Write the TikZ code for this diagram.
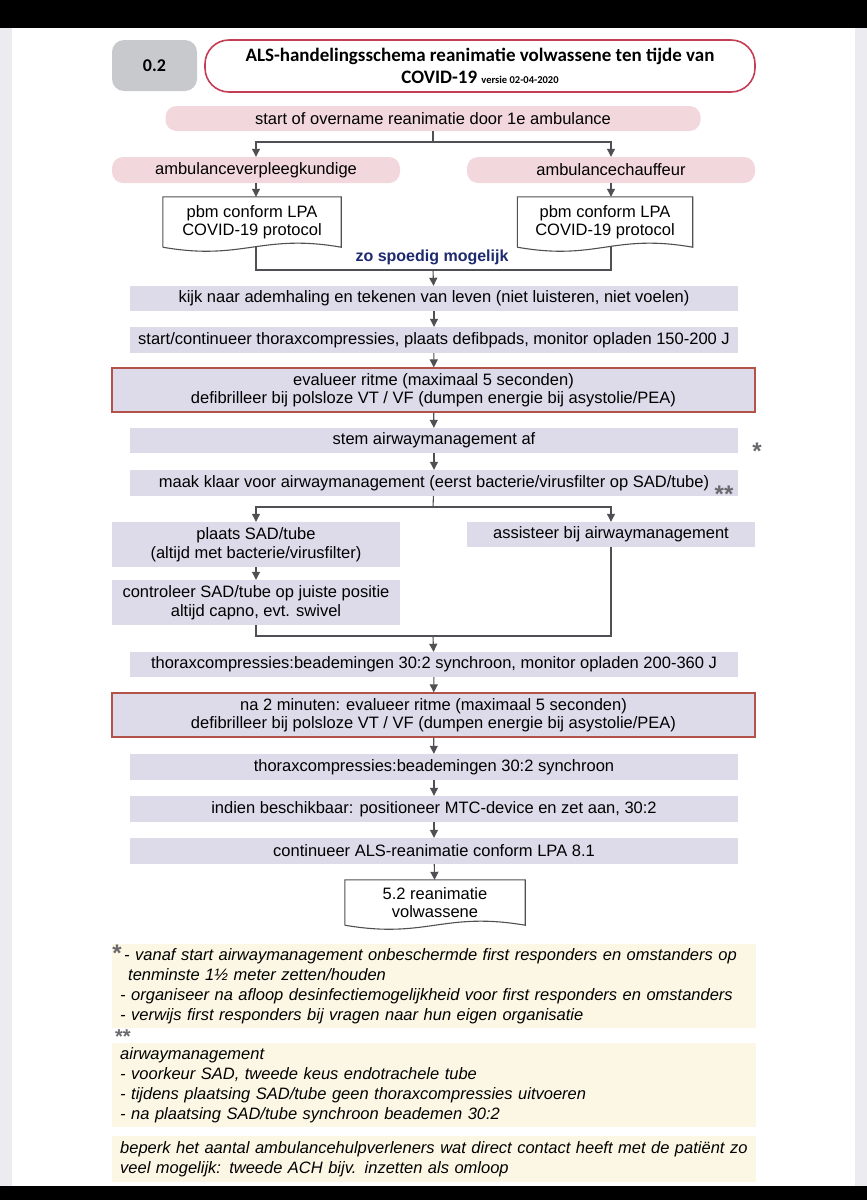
\documentclass[tikz,border=0pt]{standalone}
\usepackage{fontspec}
\setmainfont{Liberation Sans}
\newfontfamily\titlefont{Carlito}
\usetikzlibrary{arrows.meta}

\definecolor{linegrey}{RGB}{80,80,84}
\definecolor{pinkfill}{RGB}{242,216,220}
\definecolor{stepfill}{RGB}{221,219,233}
\definecolor{evalred}{RGB}{178,82,72}
\definecolor{titlered}{RGB}{196,62,86}
\definecolor{numgrey}{RGB}{200,201,205}
\definecolor{notefill}{RGB}{252,247,228}
\definecolor{asapblue}{RGB}{30,42,110}
\definecolor{stargrey}{RGB}{105,105,110}
\definecolor{sidegrey}{RGB}{236,236,240}

\newcommand{\bodysize}{\fontsize{16.5}{18.5}\selectfont}
\newcommand{\notesize}{\fontsize{16.5}{20.3}\selectfont}

% outline of a document box: flat top, wavy bottom
\newcommand{\docshape}[2]{%
  \draw[docline] (#1.south west) -- (#1.north west) -- (#1.north east) -- (#1.south east)
    .. controls +(-#2,-14) and +(#2,14) .. (#1.south west);}

\begin{document}
\begin{tikzpicture}[x=1pt,y=-1pt,
  line/.style={draw=linegrey, line width=1.1pt},
  arr/.style={line, -{Triangle[length=8pt,width=8pt]}},
  docline/.style={draw=linegrey, line width=1.1pt, fill=white},
  pinkbox/.style={fill=pinkfill, rounded corners=11pt, minimum height=26pt,
    minimum width=288pt, inner sep=0pt, font=\bodysize},
  stepbox/.style={fill=stepfill, minimum height=26pt, minimum width=608pt,
    inner sep=0pt, align=center, font=\bodysize},
  evalbox/.style={stepbox, draw=evalred, line width=1.2pt, minimum width=643pt,
    minimum height=44pt},
  colbox/.style={stepbox, minimum width=288pt},
  docbox/.style={minimum height=50pt, inner sep=0pt, align=center, font=\bodysize},
  note/.style={fill=notefill, minimum width=644pt, text width=628pt, inner xsep=8pt,
    inner ysep=0pt, align=left, font=\notesize\itshape},
  starmark/.style={text=stargrey, font=\fontsize{24}{24}\selectfont\bfseries, inner sep=0pt}]

  \useasboundingbox (0,0) rectangle (867,1200);
  % screen around the page
  \fill[white] (0,0) rectangle (867,1200);
  \fill[sidegrey] (0,28) rectangle (12,1186);
  \fill[sidegrey] (855,28) rectangle (867,1186);
  \fill[black] (0,0) rectangle (867,28);
  \fill[black] (0,1186) rectangle (867,1200);

  % header
  \node[fill=numgrey, rounded corners=12pt, minimum width=85pt, minimum height=51pt,
    font=\titlefont\bfseries\fontsize{18}{20}\selectfont] (num) at (154.5,65.5) {0.2};
  \node[draw=titlered, line width=1.6pt, rounded corners=24pt, minimum width=550pt,
    minimum height=52pt, align=center, inner sep=0pt,
    font=\titlefont\bfseries\fontsize{19}{21.5}\selectfont] (title) at (480,66)
    {ALS-handelingsschema reanimatie volwassene ten tijde van\\
     COVID-19 {\fontsize{10.5}{12}\selectfont versie 02-04-2020}};

  % start and the two roles
  \node[pinkbox, minimum width=535pt, minimum height=25pt] (start) at (433,118.5)
    {start of overname reanimatie door 1e ambulance};
  \node[pinkbox] (nurse) at (256,170) {ambulanceverpleegkundige};
  \node[pinkbox] (driver) at (611,170) {ambulancechauffeur};
  \coordinate (split1) at (433,142);
  \draw[line] (start) -- (split1);
  \draw[arr] (split1) -| (nurse);
  \draw[arr] (split1) -| (driver);

  \node[docbox, minimum width=178pt] (ppeL) at (252,222) {};
  \node[docbox, minimum width=175pt] (ppeR) at (605,222) {};
  \docshape{ppeL}{80}
  \docshape{ppeR}{80}
  \node[docbox] (ppeLtext) at (ppeL) {pbm conform LPA\\COVID-19 protocol};
  \node[docbox] (ppeRtext) at (ppeR) {pbm conform LPA\\COVID-19 protocol};
  \draw[arr] (nurse.south) -- (nurse.south |- ppeL.north);
  \draw[arr] (driver.south) -- (driver.south |- ppeR.north);

  \coordinate (join1) at (433,270);
  \draw[line] (nurse.south |- ppeL.south) |- (join1);
  \draw[line] (driver.south |- ppeR.south) |- (join1);
  \node[text=asapblue, font=\bfseries\fontsize{16}{18}\selectfont, inner sep=0pt] (asap)
    at (432,257) {zo spoedig mogelijk};

  % main sequence
  \node[stepbox, minimum height=25pt] (look) at (434,298.5)
    {kijk naar ademhaling en tekenen van leven (niet luisteren, niet voelen)};
  \node[stepbox] (cpr) at (434,340)
    {start/continueer thoraxcompressies, plaats defibpads, monitor opladen 150-200 J};
  \node[evalbox] (rhythm) at (433.5,390)
    {evalueer ritme (maximaal 5 seconden)\\
     defibrilleer bij polsloze VT / VF (dumpen energie bij asystolie/PEA)};
  \node[stepbox, minimum height=25pt] (airway) at (434,440.5) {stem airwaymanagement af};
  \node[stepbox] (prep) at (434,483)
    {maak klaar voor airwaymanagement (eerst bacterie/virusfilter op SAD/tube)};
  \node[starmark] (staraw) at (757,451) {*};
  \node[starmark] (starprep) at (724,494) {**};

  \draw[arr] (join1) -- (look);
  \draw[arr] (look) -- (cpr);
  \draw[arr] (cpr) -- (rhythm);
  \draw[arr] (rhythm) -- (airway);
  \draw[arr] (airway) -- (prep);

  % airway branch
  \node[colbox, minimum height=45pt] (place) at (256,544.5)
    {plaats SAD/tube\\(altijd met bacterie/virusfilter)};
  \node[colbox, minimum height=25pt] (assist) at (611,534.5) {assisteer bij airwaymanagement};
  \node[colbox, minimum height=45pt] (check) at (256,602.5)
    {controleer SAD/tube op juiste positie\\altijd capno, evt. swivel};
  \coordinate (split2) at (433,507);
  \draw[line] (prep) -- (split2);
  \draw[arr] (split2) -| (place);
  \draw[arr] (split2) -| (assist);
  \draw[arr] (place) -- (check);
  \coordinate (join2) at (433,636);
  \draw[line] (check.south) |- (join2);
  \draw[line] (assist.south) |- (join2);

  \node[stepbox, minimum height=25pt] (cpr2) at (434,664.5)
    {thoraxcompressies:beademingen 30:2 synchroon, monitor opladen 200-360 J};
  \node[evalbox] (rhythm2) at (433.5,715)
    {na 2 minuten: evalueer ritme (maximaal 5 seconden)\\
     defibrilleer bij polsloze VT / VF (dumpen energie bij asystolie/PEA)};
  \node[stepbox] (cpr3) at (434,767) {thoraxcompressies:beademingen 30:2 synchroon};
  \node[stepbox] (mtc) at (434,809) {indien beschikbaar: positioneer MTC-device en zet aan, 30:2};
  \node[stepbox] (als) at (434,851) {continueer ALS-reanimatie conform LPA 8.1};
  \node[docbox, minimum width=180pt, minimum height=45pt] (adult) at (435,902.5) {};
  \docshape{adult}{82}
  \node[docbox] (adulttext) at (adult) {5.2 reanimatie\\volwassene};

  \draw[arr] (join2) -- (cpr2);
  \draw[arr] (cpr2) -- (rhythm2);
  \draw[arr] (rhythm2) -- (cpr3);
  \draw[arr] (cpr3) -- (mtc);
  \draw[arr] (mtc) -- (als);
  \draw[arr] (als) -- (adult);

  % notes
  \node[note, minimum height=84pt, anchor=north west] (notea) at (112,944)
    {\hspace*{4pt}- vanaf start airwaymanagement onbeschermde first responders en omstanders op\\
     \hspace*{8pt}tenminste 1½ meter zetten/houden\\
     - organiseer na afloop desinfectiemogelijkheid voor first responders en omstanders\\
     - verwijs first responders bij vragen naar hun eigen organisatie};
  \node[note, minimum height=84pt, anchor=north west] (noteb) at (112,1043)
    {airwaymanagement\\
     - voorkeur SAD, tweede keus endotrachele tube\\
     - tijdens plaatsing SAD/tube geen thoraxcompressies uitvoeren\\
     - na plaatsing SAD/tube synchroon beademen 30:2};
  \node[note, minimum height=46pt, anchor=north west] (notec) at (112,1136)
    {beperk het aantal ambulancehulpverleners wat direct contact heeft met de patiënt zo\\
     veel mogelijk: tweede ACH bijv. inzetten als omloop};
  \node[starmark] (starnotea) at (117,953) {*};
  \node[starmark, anchor=north, font=\fontsize{20}{20}\selectfont\bfseries] (starnoteb)
    at (123,1030) {**};
\end{tikzpicture}
\end{document}
